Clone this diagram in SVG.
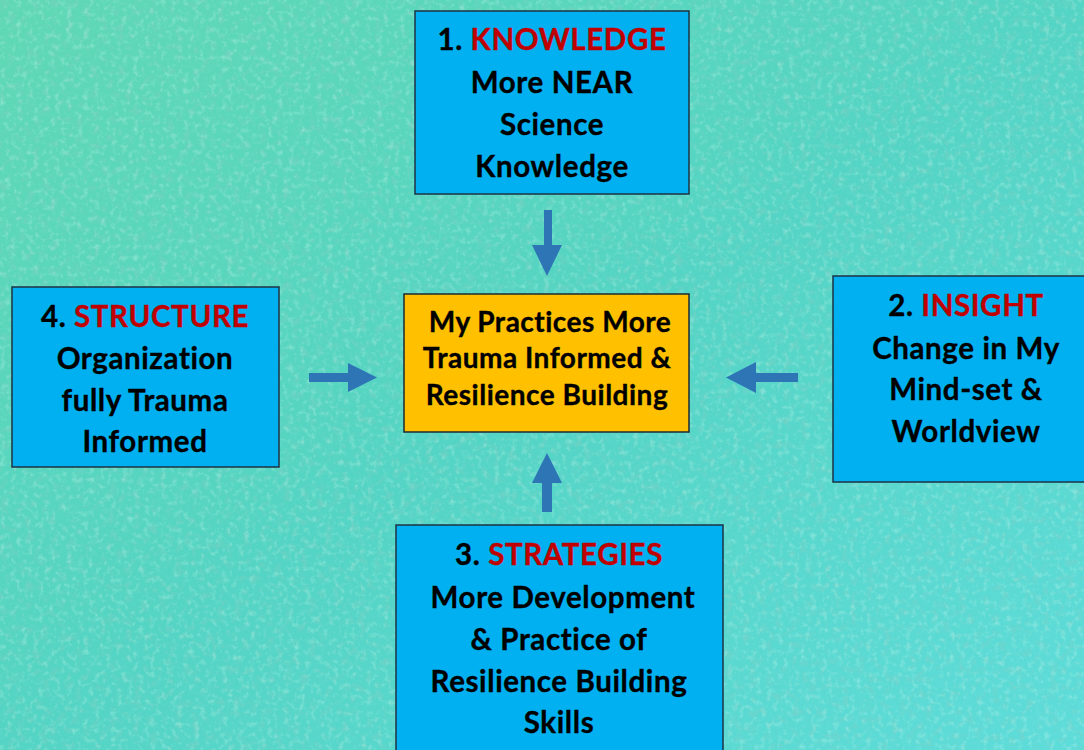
<svg xmlns="http://www.w3.org/2000/svg" width="1084" height="750" viewBox="0 0 1084 750">
<defs>
<linearGradient id="bg" x1="0" y1="0" x2="1" y2="1">
<stop offset="0" stop-color="#5fd8b4"/>
<stop offset="0.5" stop-color="#54d4c4"/>
<stop offset="1" stop-color="#5edcda"/>
</linearGradient>
<filter id="noise" x="0" y="0" width="100%" height="100%">
<feTurbulence type="fractalNoise" baseFrequency="0.12" numOctaves="4" seed="4" result="n"/>
<feColorMatrix in="n" type="matrix" values="0 0 0 0 0.25  0 0 0 0 0.62  0 0 0 0 0.55  0 0 0 -2.6 1.3" result="m"/>
<feComposite in="m" in2="SourceGraphic" operator="in"/>
</filter>
<filter id="noise2" x="0" y="0" width="100%" height="100%">
<feTurbulence type="fractalNoise" baseFrequency="0.18" numOctaves="3" seed="9" result="n"/>
<feColorMatrix in="n" type="matrix" values="0 0 0 0 0.6  0 0 0 0 0.95  0 0 0 0 0.85  0 0 0 2.6 -1.3" result="m"/>
<feComposite in="m" in2="SourceGraphic" operator="in"/>
</filter>
<style>
.box{fill:#00B0F0;stroke:#1c3344;stroke-width:1.5}
.ctr{fill:#FFC000;stroke:#1c2a33;stroke-width:1.5}
text{font-family:Lato,"Open Sans","Liberation Sans",sans-serif;font-weight:700;fill:#000;text-anchor:middle;stroke:#000;stroke-width:0.35}
.t{font-size:29.5px;letter-spacing:0.6px}
.c{font-size:28px;letter-spacing:0.5px}
.red{fill:#C00000;stroke:#C00000}
.arr{fill:#2E75B6}
</style>
</defs>
<rect width="1084" height="750" fill="url(#bg)"/>
<rect width="1084" height="750" fill="#4fd0c0" filter="url(#noise)" opacity="0.45"/>
<rect width="1084" height="750" fill="#4fd0c0" filter="url(#noise2)" opacity="0.35"/>

<g id="connectors">
<polygon class="arr" points="544,210 552,210 552,245 562,245 547,276 532,245 544,245"/>
<polygon class="arr" points="309,373 348,373 348,363 377,377.5 348,392 348,382 309,382"/>
<polygon class="arr" points="798,373 756,373 756,362 726,377.5 756,393 756,382 798,382"/>
<polygon class="arr" points="542,512 552,512 552,483 562,483 547,453 532,483 542,483"/>
</g>

<g id="node-knowledge">
<rect class="box" x="415" y="11" width="274" height="183"/>
<text class="t" x="552" y="50">1. <tspan class="red">KNOWLEDGE</tspan></text>
<text class="t" x="552" y="93">More NEAR</text>
<text class="t" x="552" y="135">Science</text>
<text class="t" x="552" y="177">Knowledge</text>
</g>

<g id="node-center">
<rect class="ctr" x="404" y="294" width="285" height="138"/>
<text class="c" x="550" y="332">My Practices More</text>
<text class="c" x="547" y="368">Trauma Informed &amp;</text>
<text class="c" x="547" y="405">Resilience Building</text>
</g>

<g id="node-structure">
<rect class="box" x="12" y="287" width="267" height="180"/>
<text class="t" x="145" y="327">4. <tspan class="red">STRUCTURE</tspan></text>
<text class="t" x="145" y="369">Organization</text>
<text class="t" x="145" y="411">fully Trauma</text>
<text class="t" x="145" y="452">Informed</text>
</g>

<g id="node-insight">
<rect class="box" x="833" y="276" width="260" height="206"/>
<text class="t" x="966" y="316">2. <tspan class="red">INSIGHT</tspan></text>
<text class="t" x="966" y="359">Change in My</text>
<text class="t" x="966" y="400">Mind-set &amp;</text>
<text class="t" x="966" y="442">Worldview</text>
</g>

<g id="node-strategies">
<rect class="box" x="396" y="525" width="327" height="240"/>
<text class="t" x="559" y="565">3. <tspan class="red">STRATEGIES</tspan></text>
<text class="t" x="563" y="608">More Development</text>
<text class="t" x="559" y="650">&amp; Practice of</text>
<text class="t" x="559" y="692">Resilience Building</text>
<text class="t" x="559" y="733">Skills</text>
</g>
</svg>
